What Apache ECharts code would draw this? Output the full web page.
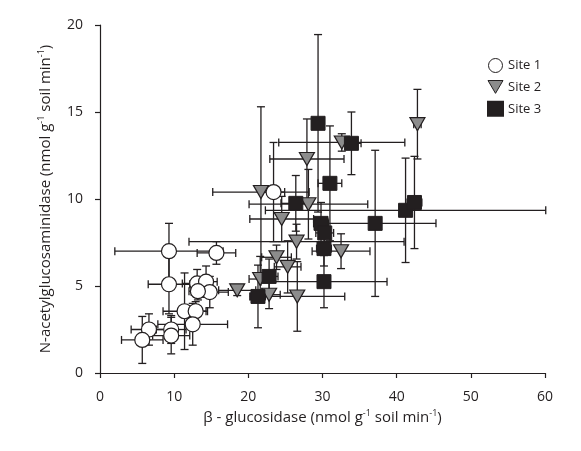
<!DOCTYPE html>
<html style="height: 100%">
<head>
<meta charset="utf-8">
<script src="https://cdn.jsdelivr.net/npm/echarts@6/dist/echarts.min.js"></script>
</head>
<body style="height: 100%; margin: 0; background-color: #ffffff">
<div id="container" style="width: 581px; height: 451px"></div>
<script type="text/javascript">
// each point: [beta-glucosidase, NAGase, x error, y error]
var site1 = [
    [9.3, 7.0, 7.3, 1.6],
    [15.7, 6.9, 2.6, 0.65],
    [9.3, 5.1, 2.8, 1.7],
    [13.1, 5.15, 2.0, 0.8],
    [14.3, 5.25, 1.5, 0.9],
    [14.8, 4.65, 2.5, 0.9],
    [13.2, 4.7, 1.2, 0.5],
    [11.4, 3.55, 2.9, 2.2],
    [12.9, 3.55, 1.6, 0.55],
    [12.5, 2.8, 4.7, 1.2],
    [6.6, 2.5, 2.4, 0.9],
    [5.7, 1.9, 2.8, 1.35],
    [9.6, 2.5, 2.0, 0.8],
    [9.6, 2.15, 2.5, 1.05],
    [23.4, 10.4, 1.5, 2.85]
];
var site2 = [
    [21.7, 10.4, 6.5, 4.9],
    [27.9, 12.3, 5.0, 2.3],
    [42.8, 14.3, 0.5, 2.0],
    [24.5, 8.85, 4.3, 1.3],
    [26.5, 7.55, 14.5, 1.0],
    [23.8, 6.65, 2.0, 0.7],
    [25.3, 6.1, 1.8, 1.5],
    [32.5, 7.0, 3.9, 1.0],
    [18.5, 4.75, 2.5, 0.3],
    [21.6, 5.4, 1.5, 1.3],
    [22.8, 4.5, 1.5, 0.8],
    [26.6, 4.4, 6.4, 2.0],
    [28.1, 9.7, 8.0, 2.0],
    [32.6, 13.25, 8.5, 0.5]
];
var site3 = [
    [29.4, 14.35, 0.8, 5.1],
    [33.9, 13.2, 1.3, 1.8],
    [31.0, 10.9, 1.6, 3.3],
    [26.4, 9.75, 2.0, 1.6],
    [29.8, 8.6, 1.0, 1.2],
    [30.3, 8.05, 1.2, 0.8],
    [30.2, 7.15, 1.0, 1.0],
    [30.2, 5.25, 8.5, 1.5],
    [37.1, 8.6, 8.2, 4.2],
    [22.8, 5.55, 1.2, 1.0],
    [21.3, 4.4, 1.0, 1.8],
    [41.2, 9.35, 18.9, 3.0],
    [42.4, 9.8, 1.0, 2.65]
];
var siteNames = ['Site 1', 'Site 2', 'Site 3'];

var ink = '#231f20';
var font = 'Open Sans';

// draws x and y error bars with end caps
function renderErr(params, api) {
    var x = api.value(0), y = api.value(1), xe = api.value(2), ye = api.value(3);
    var l = api.coord([x - xe, y]), r = api.coord([x + xe, y]);
    var t = api.coord([x, y + ye]), b = api.coord([x, y - ye]);
    var c = 4;
    var st = {stroke: ink, lineWidth: 1.3, fill: null};
    function seg(x1, y1, x2, y2) {
        return {type: 'line', shape: {x1: x1, y1: y1, x2: x2, y2: y2}, style: st};
    }
    return {
        type: 'group',
        children: [
            seg(l[0], l[1], r[0], r[1]),
            seg(l[0], l[1] - c, l[0], l[1] + c),
            seg(r[0], r[1] - c, r[0], r[1] + c),
            seg(t[0], t[1], b[0], b[1]),
            seg(t[0] - c, t[1], t[0] + c, t[1]),
            seg(b[0] - c, b[1], b[0] + c, b[1])
        ]
    };
}

function errSeries(data) {
    return {
        type: 'custom',
        renderItem: renderErr,
        encode: {x: 0, y: 1},
        data: data,
        clip: false,
        silent: true,
        z: 1
    };
}

var rich = {
    a: {fontSize: 15, fontFamily: font, color: ink},
    s: {fontSize: 9, fontFamily: font, color: ink, padding: [0, 0, 8, 0]}
};

var chart = echarts.init(document.getElementById('container'));
var option = {
    animation: false,
    grid: {left: 100, right: 36, top: 25, bottom: 78},
    legend: {
        orient: 'vertical',
        left: 482,
        top: 53,
        itemGap: 7,
        itemWidth: 15,
        itemHeight: 14,
        textStyle: {fontSize: 13, fontFamily: font, color: ink},
        data: [
            {name: siteNames[0], icon: 'circle', itemStyle: {borderWidth: 1}},
            {name: siteNames[1], icon: 'path://M0,0 L14,0 L7,12 Z', itemStyle: {borderWidth: 1}},
            {name: siteNames[2], icon: 'rect'}
        ]
    },
    xAxis: {
        type: 'value',
        min: 0,
        max: 60,
        interval: 10,
        name: '{a|β - glucosidase (nmol g}{s|-1}{a| soil min}{s|-1}{a|)}',
        nameLocation: 'middle',
        nameGap: 30,
        nameTextStyle: {rich: rich},
        axisLine: {lineStyle: {color: ink, width: 1.2}},
        axisTick: {length: 5, lineStyle: {color: ink, width: 1.2}},
        axisLabel: {margin: 17, fontSize: 14, fontFamily: font, color: ink},
        splitLine: {show: false}
    },
    yAxis: {
        type: 'value',
        min: 0,
        max: 20,
        interval: 5,
        name: '{a|N-acetylglucosaminidase (nmol g}{s|-1}{a| soil min}{s|-1}{a|)}',
        nameLocation: 'middle',
        nameGap: 46,
        nameTextStyle: {rich: rich},
        axisLine: {show: true, lineStyle: {color: ink, width: 1.2}},
        axisTick: {show: true, length: 5, lineStyle: {color: ink, width: 1.2}},
        axisLabel: {margin: 17, fontSize: 14, fontFamily: font, color: ink},
        splitLine: {show: false}
    },
    series: [
        errSeries(site1),
        errSeries(site2),
        errSeries(site3),
        {
            name: siteNames[0],
            type: 'scatter',
            data: site1,
            symbol: 'circle',
            symbolSize: 15,
            itemStyle: {color: '#ffffff', borderColor: ink, borderWidth: 1.2, opacity: 1},
            z: 2
        },
        {
            name: siteNames[1],
            type: 'scatter',
            data: site2,
            symbol: 'triangle',
            symbolRotate: 180,
            symbolSize: [15, 13],
            itemStyle: {color: '#8c8c8c', borderColor: ink, borderWidth: 1.2, opacity: 1},
            z: 3
        },
        {
            name: siteNames[2],
            type: 'scatter',
            data: site3,
            symbol: 'rect',
            symbolSize: 14,
            itemStyle: {color: ink, borderColor: ink, borderWidth: 1, opacity: 1},
            z: 4
        }
    ]
};
chart.setOption(option);
</script>
</body>
</html>
